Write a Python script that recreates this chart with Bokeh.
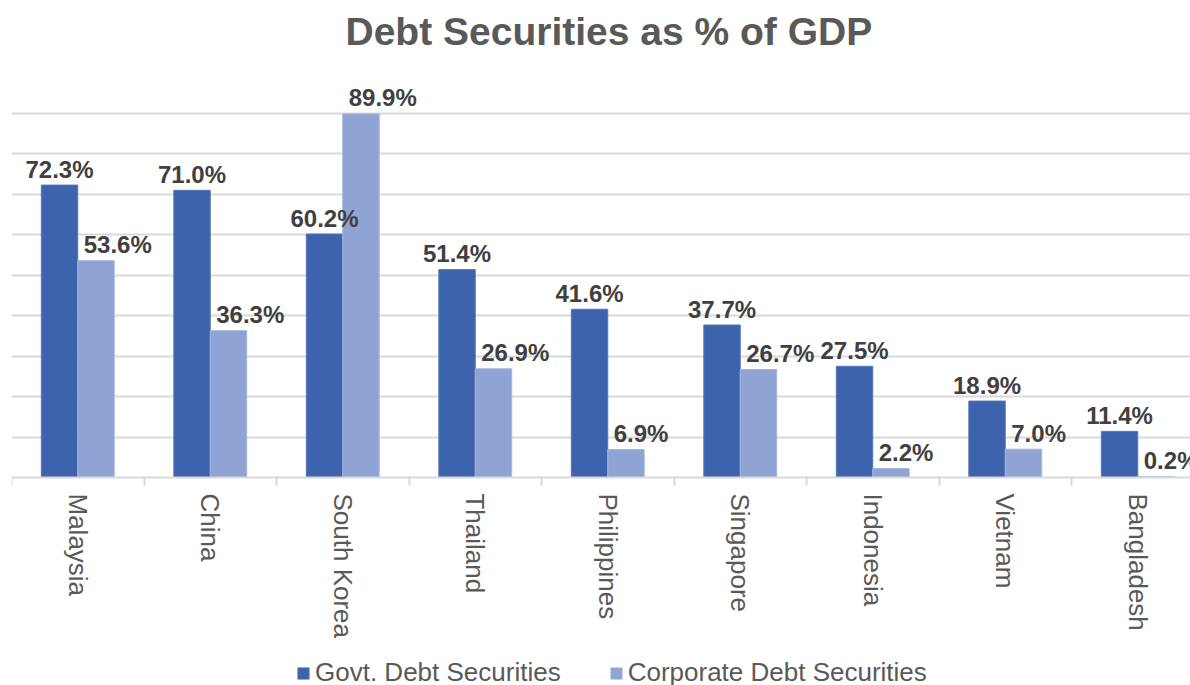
import math
from bokeh.plotting import figure
from bokeh.models import (ColumnDataSource, FixedTicker, Grid, Legend, LegendItem, Range1d)
from bokeh.core.properties import value
from bokeh.transform import dodge
from bokeh.embed import file_html
from bokeh.resources import INLINE

countries = ["Malaysia", "China", "South Korea", "Thailand", "Philippines",
             "Singapore", "Indonesia", "Vietnam", "Bangladesh"]
govt = [72.3, 71.0, 60.2, 51.4, 41.6, 37.7, 27.5, 18.9, 11.4]
corp = [53.6, 36.3, 89.9, 26.9, 6.9, 26.7, 2.2, 7.0, 0.2]
grid_values = [10, 20, 30, 40, 50, 60, 70, 80, 90]

GOVT_COLOR = "#3C63AC"
CORP_COLOR = "#8FA3D4"
FONT = "Liberation Sans"

xc = [i + 0.5 for i in range(len(countries))]
src = ColumnDataSource(dict(
    x=xc, govt=govt, corp=corp,
    govt_lbl=[f"{v:.1f}%" for v in govt],
    corp_lbl=[f"{v:.1f}%" for v in corp],
))

# frame spans from below the title to the bottom of the page; the value axis
# sits at y = 0 with the category labels and legend drawn beneath it
p = figure(frame_width=1179, frame_height=625, output_backend="svg", toolbar_location=None,
           x_range=Range1d(0, 8.898), y_range=Range1d(-51.43, 103.1),
           y_axis_location=None,
           min_border_left=11, min_border_right=0, min_border_top=0, min_border_bottom=0,
           outline_line_color=None, background_fill_color="white",
           border_fill_color="white")

p.xgrid.visible = False
p.ygrid.visible = False
p.add_layout(Grid(dimension=1, ticker=FixedTicker(ticks=grid_values),
                  grid_line_color="#D9D9D9", grid_line_width=2))

bw = 0.275
r1 = p.vbar(x=dodge("x", -bw / 2, range=p.x_range), top="govt", width=bw, source=src,
            fill_color=GOVT_COLOR, line_color="#5577B8", line_width=1)
r2 = p.vbar(x=dodge("x", bw / 2, range=p.x_range), top="corp", width=bw, source=src,
            fill_color=CORP_COLOR, line_color="#A5B5DD", line_width=1)

p.text(x=dodge("x", -bw / 2, range=p.x_range), y="govt", text="govt_lbl", source=src,
       text_align="center", text_baseline="alphabetic", y_offset=-16,
       text_font=value(FONT), text_font_style="bold", text_font_size="24px",
       text_color="#404040")
p.text(x="x", y="corp", text="corp_lbl", source=src,
       text_align="left", text_baseline="alphabetic", x_offset=6, y_offset=-16,
       text_font=value(FONT), text_font_style="bold", text_font_size="24px",
       text_color="#404040")

ax = p.xaxis[0]
ax.fixed_location = 0
ax.ticker = FixedTicker(ticks=xc, minor_ticks=list(range(len(countries) + 1)))
ax.major_label_overrides = {x: c for x, c in zip(xc, countries)}
ax.major_label_orientation = -math.pi / 2
ax.major_label_text_font = FONT
ax.major_label_text_font_size = "26px"
ax.major_label_text_color = "#595959"
ax.major_label_standoff = 8
ax.major_tick_line_color = None
ax.major_tick_out = 0
ax.major_tick_in = 0
ax.minor_tick_line_color = "#D9D9D9"
ax.minor_tick_line_width = 2
ax.minor_tick_out = 8
ax.minor_tick_in = 0
ax.axis_line_color = "#D9D9D9"
ax.axis_line_width = 2
ax.axis_label_standoff = 0

p.title.text = "Debt Securities as % of GDP"
p.title.align = "left"
p.title.offset = 334
p.title.standoff = 15
p.title.text_font = FONT
p.title.text_font_size = "39px"
p.title.text_font_style = "bold"
p.title.text_color = "#595959"

legend = Legend(items=[LegendItem(label="Govt. Debt Securities", renderers=[r1]),
                       LegendItem(label="Corporate Debt Securities", renderers=[r2])],
                orientation="horizontal", location=(285, -3),
                label_text_font=FONT, label_text_font_size="26px",
                label_text_color="#595959", glyph_width=14, glyph_height=14,
                label_standoff=5, spacing=48, padding=0, margin=0,
                border_line_color=None, background_fill_alpha=0)
p.add_layout(legend)

open("out.html", "w").write(file_html(p, INLINE))
